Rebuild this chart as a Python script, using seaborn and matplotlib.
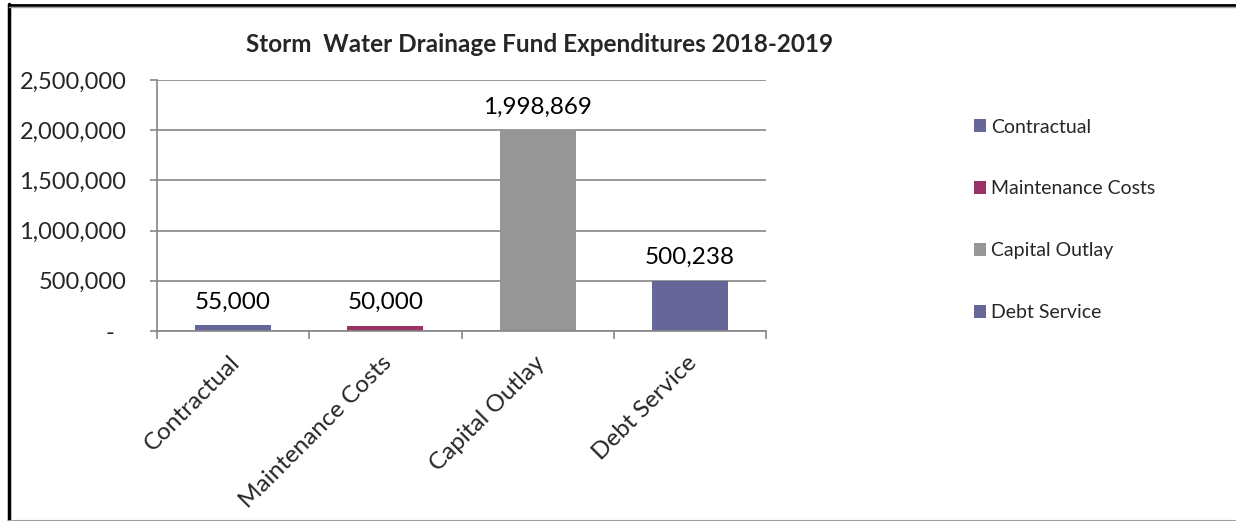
import matplotlib
matplotlib.use("Agg")
import matplotlib.pyplot as plt
import matplotlib.transforms as mtransforms
from matplotlib.lines import Line2D
from matplotlib.patches import Patch
import seaborn as sns
import pandas as pd

# Expenditure categories and amounts
categories = ["Contractual", "Maintenance Costs", "Capital Outlay", "Debt Service"]
amounts = [55000, 50000, 1998869, 500238]
bar_colors = ["#666699", "#993366", "#969696", "#666699"]
y_ticks = [0, 500000, 1000000, 1500000, 2000000, 2500000]
title = "Storm  Water Drainage Fund Expenditures 2018-2019"

sns.set_style("white")
plt.rcParams["font.family"] = ["Lato", "DejaVu Sans"]

W, H = 1236, 521
fig = plt.figure(figsize=(W / 100, H / 100), dpi=100)
ax = fig.add_axes([157 / W, 1 - 331 / H, (766 - 157) / W, (331 - 80) / H])

df = pd.DataFrame({"category": categories, "amount": amounts})
sns.barplot(data=df, x="category", y="amount", hue="category",
            palette=bar_colors, saturation=1, width=0.5, legend=False,
            linewidth=0, ax=ax)

grid_c = "#868686"
ax.set_ylim(0, 2500000)
ax.set_xlim(-0.5, len(categories) - 0.5)
ax.set_yticks(y_ticks)
ax.set_yticklabels([f"{v:,.0f}" if v else "-  " for v in y_ticks], fontsize=17)
ax.yaxis.grid(True, color=grid_c, linewidth=1.2)
ax.set_axisbelow(True)
ax.tick_params(axis="y", length=5, width=1.2, color=grid_c, pad=17, left=True)
for s in ["top", "right"]:
    ax.spines[s].set_visible(False)
for s in ["left", "bottom"]:
    ax.spines[s].set_color(grid_c)
    ax.spines[s].set_linewidth(1.2)

# category boundaries carry the x tick marks
ax.set_xticks([i - 0.5 for i in range(len(categories) + 1)], minor=True)
ax.tick_params(axis="x", which="minor", length=6, width=1.2, color=grid_c, bottom=True)
ax.tick_params(axis="x", which="major", length=0, pad=15)
ax.set_xticks(range(len(categories)))
ax.set_xticklabels(categories, fontsize=17.5, rotation=45, ha="right", va="top",
                   rotation_mode="anchor")
shift = mtransforms.ScaledTranslation(-4 / 100, 0, fig.dpi_scale_trans)
for lbl in ax.get_xticklabels():
    lbl.set_transform(lbl.get_transform() + shift)
ax.set_xlabel("")
ax.set_ylabel("")

# value labels above each bar
for i, v in enumerate(amounts):
    ax.annotate(f"{v:,.0f}", xy=(i, v), xytext=(0, 12), textcoords="offset points",
                ha="center", va="baseline", fontsize=17.5, color="black")

fig.text(540 / W, 1 - 45 / H, title, ha="center", va="center",
         fontsize=17.5, fontweight="bold")

handles = [Patch(facecolor=c, edgecolor="none", label=l)
           for c, l in zip(bar_colors, categories)]
fig.legend(handles=handles, loc="upper left", bbox_to_anchor=(964 / W, 1 - 109 / H),
           frameon=False, borderpad=0, handlelength=0.65, handleheight=0.65,
           handletextpad=0.25, labelspacing=2.3, prop={"size": 14})

# chart frame
fig.add_artist(Line2D([9 / W, 9 / W], [0, 1 - 4 / H], color="black", linewidth=2.5,
                      transform=fig.transFigure))
fig.add_artist(Line2D([9 / W, 1], [1 - 4.5 / H, 1 - 4.5 / H], color="black", linewidth=2,
                      transform=fig.transFigure))
fig.add_artist(Line2D([9 / W, 1], [1 - 6.5 / H, 1 - 6.5 / H], color="#a0a0a0", linewidth=1,
                      transform=fig.transFigure))
fig.add_artist(Line2D([9 / W, 1], [0.5 / H, 0.5 / H], color="#a0a0a0", linewidth=1.5,
                      transform=fig.transFigure))

fig.savefig("out.png", dpi=100, facecolor="white")
